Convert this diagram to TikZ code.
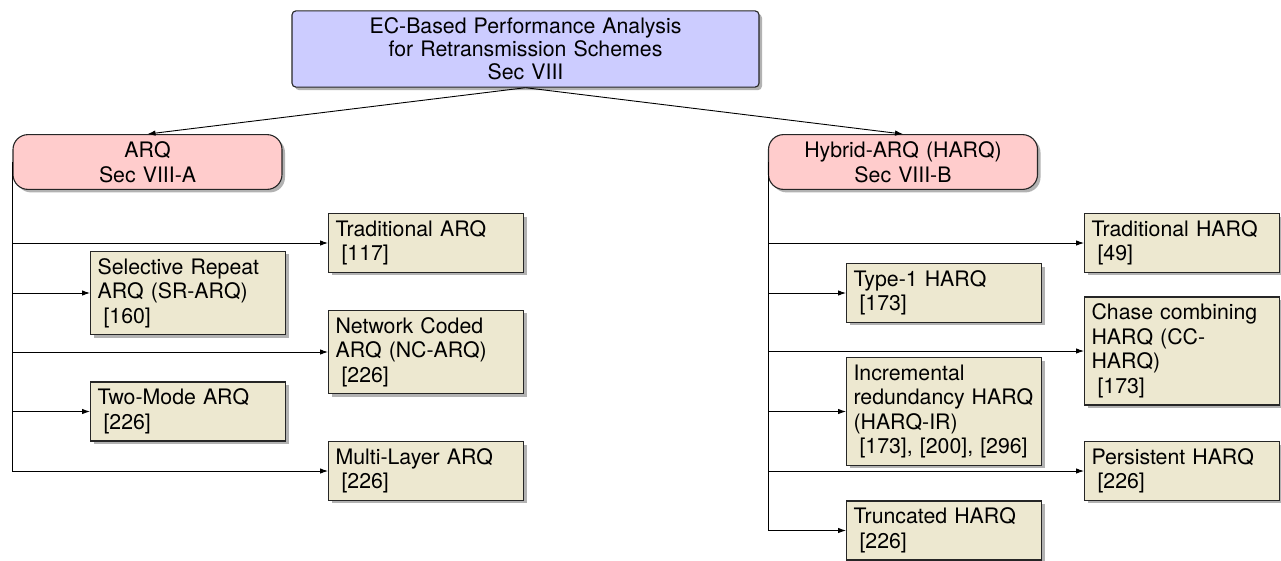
\documentclass[tikz,border=0pt]{standalone}
\usepackage{fontspec}
\setmainfont{TeX Gyre Heros}
\usetikzlibrary{arrows.meta,shadows}
\definecolor{leaffill}{RGB}{237,232,208}
\definecolor{rootfill}{RGB}{204,204,255}
\definecolor{secfill}{RGB}{255,204,204}
\begin{document}
\begin{tikzpicture}[x=1pt,y=-1pt,
  base/.style={draw=black!85, line width=1.1pt,
    drop shadow={shadow xshift=3pt, shadow yshift=-3pt, fill=black!30, opacity=1},
    inner xsep=7pt, inner ysep=7pt, font=\fontsize{21.3}{24.5}\selectfont},
  rootbox/.style={base, fill=rootfill, rounded corners=4pt, minimum width=467pt,
    minimum height=76pt, text width=453pt, align=center, font=\fontsize{21.3}{23}\selectfont},
  secbox/.style={base, fill=secfill, rounded corners=15pt, minimum width=269pt,
    minimum height=54pt, text width=255pt, align=center},
  leafbox/.style={base, fill=leaffill, text width=181pt, align=left, anchor=west},
  conn/.style={line width=0.9pt, -{Latex[length=8pt,width=5.5pt]}}
]
\useasboundingbox (0,0) rectangle (1281,560);

\node[rootbox] (root) at (525.5,49) {EC-Based Performance Analysis\\for Retransmission Schemes\\Sec VIII};
\node[secbox] (arq) at (147.5,162) {ARQ\\Sec VIII-A};
\node[secbox] (harq) at (903,162) {Hybrid-ARQ (HARQ)\\Sec VIII-B};

\node[leafbox] (a1) at (328,243) {Traditional ARQ\\\hspace*{0.28em}[117]};
\node[leafbox] (a2) at (90,293) {Selective Repeat\\ARQ (SR-ARQ)\\\hspace*{0.28em}[160]};
\node[leafbox] (a3) at (328,352) {Network Coded\\ARQ (NC-ARQ)\\\hspace*{0.28em}[226]};
\node[leafbox] (a4) at (90,411.5) {Two-Mode ARQ\\\hspace*{0.28em}[226]};
\node[leafbox] (a5) at (328,471) {Multi-Layer ARQ\\\hspace*{0.28em}[226]};

\node[leafbox] (h1) at (1084,243) {Traditional HARQ\\\hspace*{0.28em}[49]};
\node[leafbox] (h2) at (846,293) {Type-1 HARQ\\\hspace*{0.28em}[173]};
\node[leafbox] (h3) at (1084,351) {Chase combining\\HARQ (CC-\\HARQ)\\\hspace*{0.28em}[173]};
\node[leafbox] (h4) at (846,411.5) {Incremental\\redundancy HARQ\\(HARQ-IR)\\\hspace*{0.28em}[173], [200], [296]};
\node[leafbox] (h5) at (1084,471) {Persistent HARQ\\\hspace*{0.28em}[226]};
\node[leafbox] (h6) at (846,530.5) {Truncated HARQ\\\hspace*{0.28em}[226]};

\draw[conn] (root.south) -- (arq.north);
\draw[conn] (root.south) -- (harq.north);
\foreach \n in {a1,a2,a3,a4,a5} \draw[conn] (arq.west) |- (\n.west);
\foreach \n in {h1,h2,h3,h4,h5,h6} \draw[conn] (harq.west) |- (\n.west);
\end{tikzpicture}
\end{document}
